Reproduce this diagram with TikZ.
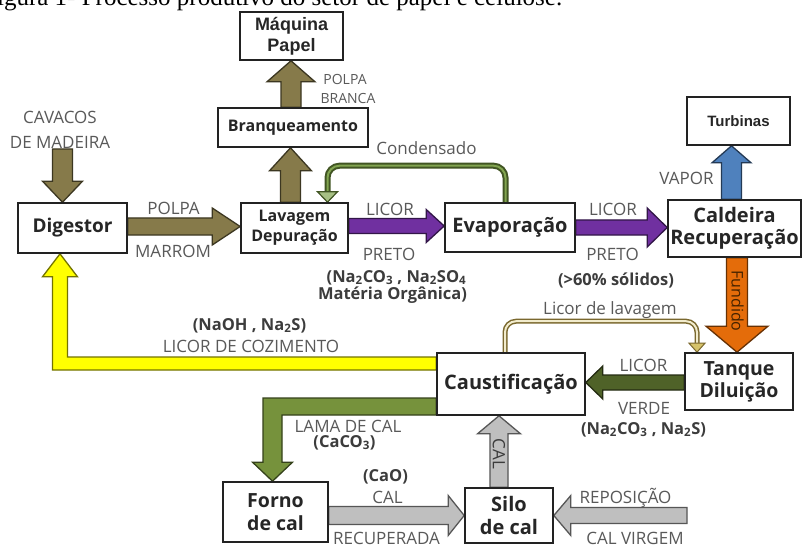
\documentclass[tikz,border=0pt]{standalone}
\usepackage{fontspec}
\setmainfont{Open Sans}
\newfontfamily\arialf{Liberation Sans}
\newfontfamily\capf{Liberation Serif}
\usetikzlibrary{calc}
\definecolor{boxc}{RGB}{34,34,34}
\definecolor{boxt}{RGB}{38,38,38}
\definecolor{lblc}{RGB}{89,89,89}
\definecolor{blblc}{RGB}{60,60,60}
\definecolor{olivef}{RGB}{134,122,74}
\definecolor{purplef}{RGB}{112,48,160}
\definecolor{yellowf}{RGB}{255,255,0}
\definecolor{bluef}{RGB}{79,129,189}
\definecolor{orangef}{RGB}{228,108,10}
\definecolor{dgreenf}{RGB}{79,98,40}
\definecolor{lgreenf}{RGB}{118,146,60}
\definecolor{grayf}{RGB}{191,191,191}
\definecolor{condout}{RGB}{65,85,35}
\definecolor{condin}{RGB}{130,165,80}
\definecolor{lavout}{RGB}{122,104,46}
\definecolor{lavin}{RGB}{242,236,205}
\definecolor{lavhead}{RGB}{214,195,106}
\definecolor{fundc}{RGB}{70,35,0}
\pgfdeclarelayer{bg}
\pgfdeclarelayer{paper}
\pgfsetlayers{paper,bg,main}
\newcommand{\fatarrow}[6][]{%
 \draw[#1] ($(#2)!#4!90:(#3)$)
 -- ($(#3)!#6!(#2)!#4!-90:(#2)$)
 -- ($(#3)!#6!(#2)!#5!-90:(#2)$)
 -- (#3)
 -- ($(#3)!#6!(#2)!#5!90:(#2)$)
 -- ($(#3)!#6!(#2)!#4!90:(#2)$)
 -- ($(#2)!#4!-90:(#3)$) -- cycle;}
\tikzset{
 box/.style={draw=boxc, line width=1.6pt, fill=white, align=center, inner sep=0pt, text=boxt},
 lbl/.style={text=lblc, inner sep=0pt, font=\fontsize{17}{20}\selectfont},
 blbl/.style={text=blblc, inner sep=0pt, font=\bfseries\fontsize{16.5}{20}\selectfont},
 fa/.style={draw=#1!45!black, fill=#1, line width=1.3pt, line join=miter},
}
\begin{document}
\begin{tikzpicture}[x=1pt,y=-1pt]
\begin{pgfonlayer}{paper}
\fill[white] (0,0) rectangle (803,548);
\end{pgfonlayer}
\useasboundingbox (0,0) rectangle (803,548);
% caption (cut at top)
\node[anchor=base west, inner sep=0pt, font=\capf\fontsize{25}{28}\selectfont, text=black] (cap) at (-17,6) {Figura 1- Processo produtivo do setor de papel e celulose.};
% boxes
\node[box, minimum width=103pt, minimum height=48pt, font=\arialf\bfseries\fontsize{18}{21}\selectfont] (maq) at (291.5,36) {Máquina\\Papel};
\node[box, minimum width=150pt, minimum height=39pt, font=\bfseries\fontsize{16}{19}\selectfont] (bra) at (293,127.5) {Branqueamento};
\node[box, minimum width=109pt, minimum height=50pt, font=\bfseries\fontsize{19}{22}\selectfont] (dig) at (72.5,228) {Digestor};
\node[box, minimum width=107pt, minimum height=50pt, font=\bfseries\fontsize{16}{20}\selectfont] (lav) at (294.5,228) {Lavagem\\Depuração};
\node[box, minimum width=130pt, minimum height=49pt, font=\bfseries\fontsize{20}{22}\selectfont] (eva) at (510,227.5) {Evaporação};
\node[box, minimum width=133pt, minimum height=57pt, font=\bfseries\fontsize{20}{22}\selectfont] (cal) at (734.5,228.5) {Caldeira\\Recuperação};
\node[box, minimum width=103pt, minimum height=48pt, font=\arialf\bfseries\fontsize{15}{18}\selectfont] (tur) at (738.5,121) {Turbinas};
\node[box, minimum width=108pt, minimum height=57pt, font=\bfseries\fontsize{19.5}{22}\selectfont] (tan) at (739,381.5) {Tanque\\Diluição};
\node[box, minimum width=148pt, minimum height=62pt, font=\bfseries\fontsize{20}{22}\selectfont] (cau) at (511,384) {Caustificação};
\node[box, minimum width=105pt, minimum height=60pt, font=\bfseries\fontsize{19.5}{23}\selectfont] (for) at (275.5,512) {Forno\\de cal};
\node[box, minimum width=88pt, minimum height=55pt, font=\bfseries\fontsize{20}{23}\selectfont] (sil) at (509,515.5) {Silo\\de cal};
% coordinates for arrows
\coordinate (cavs) at (62.5,149);
\coordinate (cave) at (cavs |- dig.north);
\coordinate (lbs) at ([xshift=-4pt]lav.north);
\coordinate (lbe) at (lbs |- bra.south);
\coordinate (bms) at ([xshift=-2pt]bra.north);
\coordinate (bme) at (bms |- maq.south);
\coordinate (dls) at ([yshift=1.5pt]dig.east);
\coordinate (dle) at (dls -| lav.west);
\coordinate (les) at ([yshift=2pt]lav.east);
\coordinate (lee) at (les -| eva.west);
\coordinate (ecs) at (eva.east);
\coordinate (ece) at (ecs -| cal.west);
\coordinate (cts) at ([xshift=-3pt]cal.north);
\coordinate (cte) at (cts |- tur.south);
\coordinate (cds) at ([xshift=2.5pt]cal.south);
\coordinate (cde) at (cds |- tan.north);
\coordinate (tcs) at ([yshift=-1pt]tan.west);
\coordinate (tce) at (tcs -| cau.east);
\coordinate (scs) at ([xshift=-10pt]sil.north);
\coordinate (sce) at (scs |- cau.south);
\coordinate (fse) at (sil.west);
\coordinate (fss) at (fse -| for.east);
\coordinate (rss) at (687,515.5);
\coordinate (rse) at (rss -| sil.east);
\begin{pgfonlayer}{bg}
\fatarrow[fa=olivef]{cavs}{cave}{10pt}{20pt}{21pt}
\fatarrow[fa=olivef]{dls}{dle}{8.5pt}{18.5pt}{28pt}
\fatarrow[fa=olivef]{lbs}{lbe}{10pt}{21pt}{23pt}
\fatarrow[fa=olivef]{bms}{bme}{10pt}{24pt}{21pt}
\fatarrow[fa=purplef]{les}{lee}{7.5pt}{16.5pt}{18pt}
\fatarrow[fa=purplef]{ecs}{ece}{7.5pt}{19.5pt}{20pt}
\fatarrow[fa=bluef]{cts}{cte}{10pt}{19.5pt}{17pt}
\fatarrow[fa=orangef]{cds}{cde}{10.5pt}{31pt}{26pt}
\fatarrow[fa=dgreenf]{tcs}{tce}{7.5pt}{16.5pt}{17pt}
\fatarrow[fa=grayf]{scs}{sce}{9pt}{21.5pt}{18pt}
\fatarrow[fa=grayf]{fss}{fse}{9pt}{20pt}{16pt}
\fatarrow[fa=grayf]{rss}{rse}{8pt}{20pt}{17pt}
% yellow: Caustificacao -> Digestor
\draw[fa=yellowf] let \p1=([yshift=20.5pt]cau.west), \p2=([xshift=-12.5pt]dig.south) in
 (\x1,\y1+6.5pt) -- (\x2+7.5pt,\y1+6.5pt) -- (\x2+7.5pt,\y2-23pt) -- (\x2+17.5pt,\y2-23pt)
 -- (\x2,\y2) -- (\x2-17.5pt,\y2-23pt) -- (\x2-7.5pt,\y2-23pt) -- (\x2-7.5pt,\y1-6.5pt)
 -- (\x1,\y1-6.5pt) -- cycle;
% green: Caustificacao -> Forno de cal
\draw[fa=lgreenf] let \p1=([yshift=-22.5pt]cau.west), \p2=([xshift=-3pt]for.north) in
 (\x1,\y1+8.5pt) -- (\x2-9.5pt,\y1+8.5pt) -- (\x2-9.5pt,\y2+19pt) -- (\x2-20pt,\y2+19pt)
 -- (\x2,\y2) -- (\x2+20pt,\y2+19pt) -- (\x2+9.5pt,\y2+19pt) -- (\x2+9.5pt,\y1-8.5pt)
 -- (\x1,\y1-8.5pt) -- cycle;
% Condensado: Evaporacao -> Lavagem
\foreach \w/\c in {6pt/condout, 2pt/condin}
 \draw[line width=\w, draw=\c, rounded corners=12pt] let \p1=([xshift=-4.5pt]eva.north), \p2=([xshift=33pt]lav.north) in
 (\p1) -- (\x1,\y1+36.5pt) -- (\x2,\y1+36.5pt) -- (\x2,\y2+9pt);
\draw[draw=condout, fill=condin!70!white, line width=1.2pt] let \p2=([xshift=33pt]lav.north) in
 (\x2-10pt,\y2+10.5pt) -- (\x2,\y2) -- (\x2+10pt,\y2+10.5pt) -- cycle;
% Licor de lavagem: Caustificacao -> Tanque
\foreach \w/\c in {5pt/lavout, 2pt/lavin}
 \draw[line width=\w, draw=\c, rounded corners=11pt] let \p1=([xshift=-6pt]cau.north), \p2=([xshift=-42pt]tan.north) in
 (\p1) -- (\x1,\y1+31pt) -- (\x2,\y1+31pt) -- (\x2,\y2+8pt);
\draw[draw=lavout, fill=lavhead, line width=1pt] let \p2=([xshift=-42pt]tan.north) in
 (\x2-8pt,\y2+9pt) -- (\x2,\y2) -- (\x2+8pt,\y2+9pt) -- cycle;
\end{pgfonlayer}
% texts inside arrows
\node[rotate=-90, inner sep=0pt, text=fundc, font=\fontsize{16}{18}\selectfont] (fund) at (737.5,301) {Fundido};
\node[rotate=-90, inner sep=0pt, text=blblc, font=\fontsize{17}{18}\selectfont] (calv) at (499,454) {CAL};
% labels
\node[lbl] (t1) at (60,117) {CAVACOS};
\node[lbl] (t2) at (60,142) {DE MADEIRA};
\node[lbl] (t3) at (173.5,208.5) {POLPA};
\node[lbl] (t4) at (173,251) {MARROM};
\node[lbl, font=\fontsize{14}{16}\selectfont] (t5) at (345,79) {POLPA};
\node[lbl, font=\fontsize{14}{16}\selectfont] (t6) at (348,99) {BRANCA};
\node[lbl] (t7) at (426.5,148.5) {Condensado};
\node[lbl] (t8) at (390,209) {LICOR};
\node[lbl] (t9) at (389,254) {PRETO};
\node[blbl] (t10) at (396.5,277.5) {(Na\textsubscript{2}CO\textsubscript{3} , Na\textsubscript{2}SO\textsubscript{4}};
\node[blbl] (t11) at (392.5,295.5) {Matéria Orgânica)};
\node[lbl] (t12) at (613,209) {LICOR};
\node[lbl] (t13) at (612.5,254) {PRETO};
\node[blbl] (t14) at (616,280) {(>60\% sólidos)};
\node[lbl] (t15) at (686.5,178.5) {VAPOR};
\node[lbl] (t16) at (610,310.5) {Licor de lavagem};
\node[lbl] (t17) at (643.5,365) {LICOR};
\node[lbl] (t18) at (644,408.5) {VERDE};
\node[blbl] (t19) at (643.5,429.5) {(Na\textsubscript{2}CO\textsubscript{3} , Na\textsubscript{2}S)};
\node[blbl] (t20) at (249.5,325.5) {(NaOH , Na\textsubscript{2}S)};
\node[lbl] (t21) at (251,346.5) {LICOR DE COZIMENTO};
\node[lbl] (t22) at (348,426) {LAMA DE CAL};
\node[blbl] (t23) at (344.5,442.5) {(CaCO\textsubscript{3})};
\node[blbl] (t24) at (385.5,476.5) {(CaO)};
\node[lbl] (t25) at (387.5,497) {CAL};
\node[lbl] (t26) at (386.5,538.5) {RECUPERADA};
\node[lbl] (t27) at (625.5,497.5) {REPOSIÇÃO};
\node[lbl] (t28) at (635,538.5) {CAL VIRGEM};
\end{tikzpicture}
\end{document}
